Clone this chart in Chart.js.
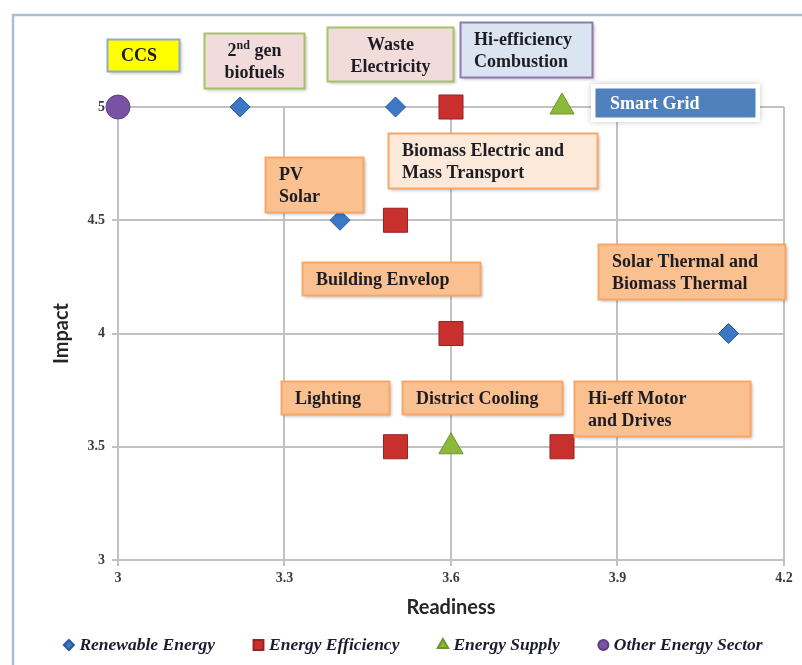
<!DOCTYPE html>
<html>
<head>
<meta charset="utf-8">
<script src="https://cdn.jsdelivr.net/npm/chart.js@4.4.1/dist/chart.umd.min.js"></script>
<style>
  html, body { margin: 0; padding: 0; background: #fff; }
  #wrap { width: 802px; height: 665px; position: relative; }
</style>
</head>
<body>
<div id="wrap"><canvas id="chart"></canvas></div>
<script>
// Series (Readiness = x, Impact = y)
var categories = ['Renewable Energy', 'Energy Efficiency', 'Energy Supply', 'Other Energy Sector'];
var renewableX = [3.22, 3.5, 3.4, 4.1];
var renewableY = [5, 5, 4.5, 4];
var efficiencyX = [3.6, 3.5, 3.6, 3.5, 3.8];
var efficiencyY = [5, 4.5, 4, 3.5, 3.5];
var supplyX = [3.8, 3.6];
var supplyY = [5, 3.5];
var otherX = [3];
var otherY = [5];

// Tick labels
var xTicks = [3, 3.3, 3.6, 3.9, 4.2];
var yTicks = [3, 3.5, 4, 4.5, 5];

// Text of the callout boxes
var noteTexts = [
  ['CCS'],
  ['2nd gen', 'biofuels'],
  ['Waste', 'Electricity'],
  ['Hi-efficiency', 'Combustion'],
  ['Smart Grid'],
  ['Biomass Electric and', 'Mass Transport'],
  ['PV', 'Solar'],
  ['Building Envelop'],
  ['Solar Thermal and', 'Biomass Thermal'],
  ['Lighting'],
  ['District Cooling'],
  ['Hi-eff Motor', 'and Drives']
];

// box placement: top-left corner in data units, size in px
var noteBoxes = [
  { x: 2.980, y: 5.300, w: 73, h: 33, fill: '#ffff00', stroke: '#8eaad0', align: 'left' },
  { x: 3.155, y: 5.327, w: 101, h: 56, fill: '#f2dcdb', stroke: '#a5c26a', align: 'center' },
  { x: 3.377, y: 5.353, w: 127, h: 55, fill: '#f2dcdb', stroke: '#a5c26a', align: 'center' },
  { x: 3.616, y: 5.375, w: 133, h: 56, fill: '#dbe5f1', stroke: '#9079b0', align: 'left' },
  { x: 3.862, y: 5.079, w: 159, h: 28, fill: '#4f81bd', stroke: '#4f81bd', align: 'left', color: '#ffffff', glow: true },
  { x: 3.487, y: 4.885, w: 210, h: 56, fill: '#fde9d9', stroke: '#f7a868', align: 'left' },
  { x: 3.264, y: 4.779, w: 99, h: 56, fill: '#fac090', stroke: '#f7a868', align: 'left' },
  { x: 3.332, y: 4.316, w: 179, h: 34, fill: '#fac090', stroke: '#f7a868', align: 'left' },
  { x: 3.864, y: 4.395, w: 188, h: 56, fill: '#fac090', stroke: '#f7a868', align: 'left' },
  { x: 3.293, y: 3.790, w: 109, h: 34, fill: '#fac090', stroke: '#f7a868', align: 'left' },
  { x: 3.512, y: 3.790, w: 161, h: 34, fill: '#fac090', stroke: '#f7a868', align: 'left' },
  { x: 3.821, y: 3.790, w: 177, h: 56, fill: '#fac090', stroke: '#f7a868', align: 'left' }
];

function pts(xs, ys) {
  return xs.map(function (x, i) { return { x: x, y: ys[i] }; });
}

var noteFont = 'bold 18px "Liberation Serif", serif';

function drawText(ctx, txt, x, y, align) {
  // "2nd" gets a raised suffix
  if (txt.indexOf('2nd') === 0) {
    var rest = txt.slice(3);
    var smallFont = 'bold 12px "Liberation Serif", serif';
    ctx.font = noteFont;
    var w2 = ctx.measureText('2').width;
    var wr = ctx.measureText(rest).width;
    ctx.font = smallFont;
    var wn = ctx.measureText('nd').width;
    var total = w2 + wn + wr;
    var sx = align === 'center' ? x - total / 2 : x;
    ctx.textAlign = 'left';
    ctx.font = noteFont;
    ctx.fillText('2', sx, y);
    ctx.font = smallFont;
    ctx.fillText('nd', sx + w2, y - 5);
    ctx.font = noteFont;
    ctx.fillText(rest, sx + w2 + wn, y);
    return;
  }
  ctx.font = noteFont;
  ctx.textAlign = align;
  ctx.fillText(txt, x, y);
}

var notesPlugin = {
  id: 'notes',
  beforeDraw: function (chart) {
    var ctx = chart.ctx;
    ctx.save();
    ctx.strokeStyle = '#a9bed6';
    ctx.lineWidth = 2.5;
    ctx.strokeRect(13, 15, 900, 800);
    ctx.restore();
  },
  afterDraw: function (chart) {
    var ctx = chart.ctx;
    var xs = chart.scales.x, ys = chart.scales.y;
    ctx.save();
    noteBoxes.forEach(function (b, i) {
      var left = Math.round(xs.getPixelForValue(b.x));
      var top = Math.round(ys.getPixelForValue(b.y));
      if (b.glow) {
        ctx.save();
        ctx.shadowColor = 'rgba(0,0,0,0.22)';
        ctx.shadowBlur = 6;
        ctx.fillStyle = '#ffffff';
        ctx.fillRect(left - 5, top - 5, b.w + 10, b.h + 10);
        ctx.restore();
      } else {
        ctx.save();
        ctx.shadowColor = 'rgba(0,0,0,0.25)';
        ctx.shadowBlur = 3;
        ctx.shadowOffsetX = 1.5;
        ctx.shadowOffsetY = 1.5;
        ctx.fillStyle = b.fill;
        ctx.fillRect(left, top, b.w, b.h);
        ctx.restore();
      }
      ctx.fillStyle = b.fill;
      ctx.fillRect(left, top, b.w, b.h);
      ctx.strokeStyle = b.stroke;
      ctx.lineWidth = 2;
      ctx.strokeRect(left + 0.5, top + 0.5, b.w - 1, b.h - 1);

      var lines = noteTexts[i];
      ctx.fillStyle = b.color || '#1c1c24';
      ctx.textBaseline = 'middle';
      var tx = b.align === 'center' ? left + b.w / 2 : left + 14;
      if (lines.length === 1) {
        drawText(ctx, lines[0], tx, top + b.h / 2 + 1, b.align);
      } else {
        drawText(ctx, lines[0], tx, top + 18, b.align);
        drawText(ctx, lines[1], tx, top + 40, b.align);
      }
    });

    // legend along the bottom
    var items = chart.data.datasets;
    ctx.font = 'bold italic 17.5px "Liberation Serif", serif';
    ctx.textBaseline = 'middle';
    ctx.textAlign = 'left';
    var gap = 38, mark = 11, pad = 5;
    var widths = items.map(function (d) { return mark + pad + ctx.measureText(d.label).width; });
    var total = widths.reduce(function (a, b) { return a + b; }, 0) + gap * (items.length - 1);
    var x = chart.width / 2 + 12 - total / 2;
    var y = 645;
    items.forEach(function (d, i) {
      ctx.fillStyle = d.backgroundColor;
      ctx.strokeStyle = d.borderColor;
      Chart.helpers.drawPoint(ctx, {
        pointStyle: d.pointStyle,
        radius: d.pointStyle === 'rect' ? 7 : (d.pointStyle === 'triangle' ? 6 : 5),
        rotation: 0,
        borderWidth: 1
      }, x + mark / 2, y);
      ctx.fillStyle = '#1c1c30';
      ctx.fillText(d.label, x + mark + pad, y);
      x += widths[i] + gap;
    });
    ctx.restore();
  }
};

var tickFont = { family: '"Liberation Serif", serif', size: 14, weight: 'bold' };
var titleFont = { family: 'Lato, "Liberation Sans", sans-serif', size: 20, weight: 'bold' };
var gridColor = '#c2c2c2';

new Chart(document.getElementById('chart'), {
  type: 'scatter',
  data: {
    datasets: [
      { label: categories[0], data: pts(renewableX, renewableY), pointStyle: 'rectRot', pointRadius: 10,
        backgroundColor: '#3c78c6', borderColor: '#2a5a9a', borderWidth: 1, clip: false },
      { label: categories[1], data: pts(efficiencyX, efficiencyY), pointStyle: 'rect', pointRadius: 17,
        backgroundColor: '#c8302e', borderColor: '#9a2220', borderWidth: 1, clip: false },
      { label: categories[2], data: pts(supplyX, supplyY), pointStyle: 'triangle', pointRadius: 14,
        backgroundColor: '#8cb83c', borderColor: '#6e9430', borderWidth: 1, clip: false },
      { label: categories[3], data: pts(otherX, otherY), pointStyle: 'circle', pointRadius: 12,
        backgroundColor: '#7a52a4', borderColor: '#5e3e82', borderWidth: 1, clip: false }
    ]
  },
  options: {
    responsive: true,
    maintainAspectRatio: false,
    animation: false,
    layout: { padding: { left: 40, right: 16, top: 107, bottom: 35 } },
    plugins: {
      legend: { display: false },
      tooltip: { enabled: false }
    },
    scales: {
      x: {
        type: 'linear',
        min: 3,
        max: 4.2,
        afterBuildTicks: function (s) { s.ticks = xTicks.map(function (v) { return { value: v }; }); },
        afterFit: function (s) { s.height = 70; },
        ticks: { font: tickFont, color: '#3b3b48', padding: 4, maxRotation: 0,
          callback: function (v) { return String(v); } },
        grid: { color: gridColor, lineWidth: 2, tickLength: 6 },
        border: { color: gridColor, width: 2 },
        title: { display: true, text: 'Readiness', font: titleFont, color: '#262626',
          padding: { top: 0, bottom: 10 } }
      },
      y: {
        type: 'linear',
        min: 3,
        max: 5,
        afterBuildTicks: function (s) { s.ticks = yTicks.map(function (v) { return { value: v }; }); },
        afterFit: function (s) { s.width = 78; },
        ticks: { font: tickFont, color: '#3b3b48', padding: 7,
          callback: function (v) { return String(v); } },
        grid: { color: gridColor, lineWidth: 2, tickLength: 6 },
        border: { color: gridColor, width: 2 },
        title: { display: true, text: 'Impact', font: titleFont, color: '#262626',
          padding: { top: 10, bottom: 0 } }
      }
    }
  },
  plugins: [notesPlugin]
});
</script>
</body>
</html>
